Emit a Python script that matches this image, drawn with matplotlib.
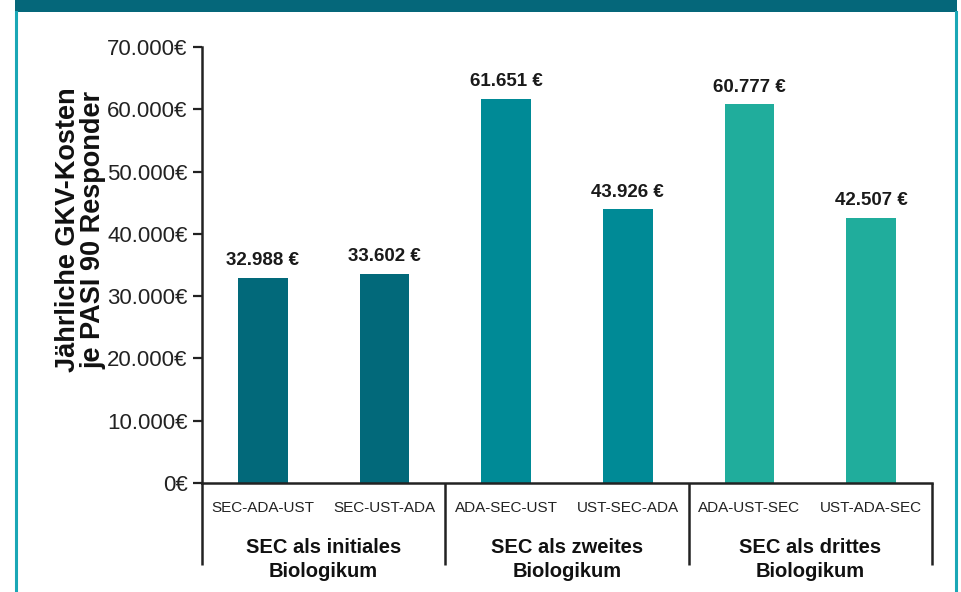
import matplotlib
matplotlib.use("Agg")
import matplotlib.pyplot as plt
import matplotlib.transforms as mtransforms
from matplotlib.patches import Rectangle
from matplotlib.lines import Line2D

plt.rcParams['font.family'] = ['Liberation Sans', 'DejaVu Sans']

sequences = ["SEC-ADA-UST", "SEC-UST-ADA", "ADA-SEC-UST", "UST-SEC-ADA", "ADA-UST-SEC", "UST-ADA-SEC"]
costs = [32988, 33602, 61651, 43926, 60777, 42507]
value_labels = ["32.988 €", "33.602 €", "61.651 €", "43.926 €", "60.777 €", "42.507 €"]
groups = ["SEC als initiales\nBiologikum", "SEC als zweites\nBiologikum", "SEC als drittes\nBiologikum"]
yticks = [0, 10000, 20000, 30000, 40000, 50000, 60000, 70000]
ytick_labels = ["0€", "10.000€", "20.000€", "30.000€", "40.000€", "50.000€", "60.000€", "70.000€"]
bar_colors = ["#02697A", "#02697A", "#008A96", "#008A96", "#20AD9C", "#20AD9C"]

W, H = 962, 592
fig = plt.figure(figsize=(W / 100, H / 100), dpi=100)

# frame: top band + side borders
fig.add_artist(Rectangle((15 / W, 1 - 11.5 / H), 942 / W, 11.5 / H, transform=fig.transFigure,
                         color="#05677A", lw=0))
fig.add_artist(Line2D([16 / W, 16 / W], [0, 1 - 11.5 / H], transform=fig.transFigure,
                      color="#1AA7B6", lw=2.2))
fig.add_artist(Line2D([956 / W, 956 / W], [0, 1 - 11.5 / H], transform=fig.transFigure,
                      color="#1AA7B6", lw=2.2))

ax = fig.add_axes([202 / W, 1 - 483 / H, 730 / W, 436 / H])
x = list(range(len(costs)))
ax.bar(x, costs, width=0.41, color=bar_colors, zorder=2)

for xi, v, lab in zip(x, costs, value_labels):
    ax.annotate(lab, (xi, v), xytext=(0, 12.5), textcoords="offset points",
                ha="center", va="center", fontsize=13.5, fontweight="bold", color="#1a1a1a")

ax.set_xlim(-0.5, 5.5)
ax.set_ylim(0, 70000)
ax.set_yticks(yticks)
ax.set_yticklabels(ytick_labels, fontsize=16, color="#222222")
ax.tick_params(axis="y", length=6.5, width=1.6, pad=4, color="#222222")
ax.set_xticks([])
for s in ["top", "right"]:
    ax.spines[s].set_visible(False)
for s in ["left", "bottom"]:
    ax.spines[s].set_linewidth(1.8)
    ax.spines[s].set_color("#222222")

trans = mtransforms.blended_transform_factory(ax.transData, ax.transAxes)
for xi, name in zip(x, sequences):
    ax.text(xi, -0.057, name, transform=trans, ha="center", va="center",
            fontsize=11, color="#222222")

for i, g in enumerate(groups):
    ax.text(2 * i + 0.5, -0.175, g, transform=trans, ha="center", va="center",
            fontsize=14.5, fontweight="bold", color="#111111", linespacing=1.3)

for sx in [-0.5, 1.5, 3.5, 5.5]:
    ax.plot([sx, sx], [0, -0.188], transform=trans, color="#222222", lw=1.8,
            clip_on=False, solid_capstyle="butt")

ax.text(-0.166, 0.58, "Jährliche GKV-Kosten\nje PASI 90 Responder", transform=ax.transAxes,
        rotation=90, ha="center", va="center", fontsize=19.5, fontweight="bold",
        color="#111111", linespacing=0.95)

fig.savefig("out.png", dpi=100)
